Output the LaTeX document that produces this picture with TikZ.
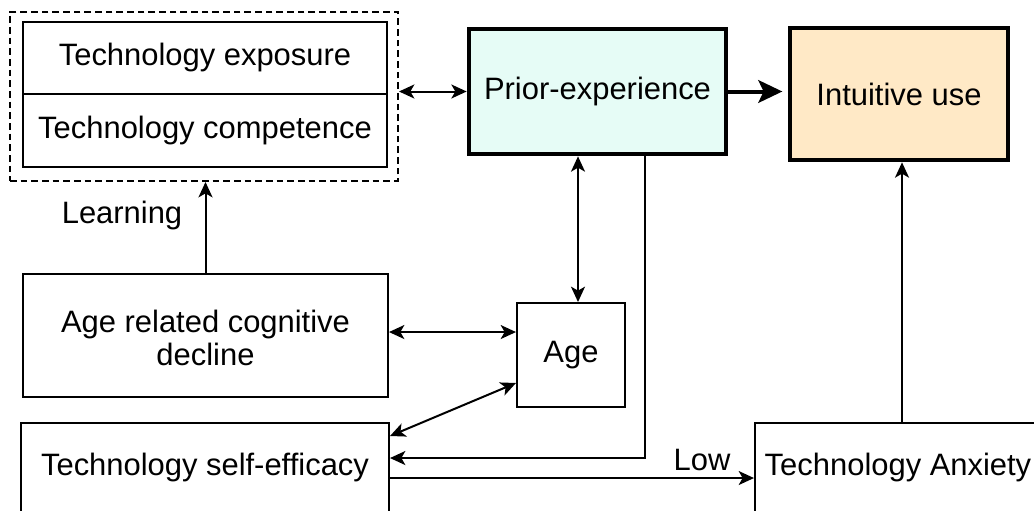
\documentclass[tikz,border=0pt]{standalone}
\usepackage{fontspec}
\setmainfont{Liberation Sans}
\usetikzlibrary{arrows.meta,fit,calc}
\definecolor{priorfill}{HTML}{E6FCF6}
\definecolor{intufill}{HTML}{FFE9C6}
\begin{document}
\begin{tikzpicture}[x=0.75pt,y=-0.75pt,
  font=\fontsize{23.2}{25}\selectfont,
  box/.style={draw, line width=1.5pt, inner sep=0pt},
  bigbox/.style={draw, line width=3.5pt, inner sep=0pt},
  grpbox/.style={draw, line width=1.5pt, inner sep=0pt, dash pattern=on 5pt off 3pt},
  txt/.style={inner sep=0pt, align=center},
  tip/.tip={Stealth[length=11.5pt,width=10.5pt,inset=3pt]},
  arr/.style={line width=1.5pt, -{tip}},
  dbl/.style={line width=1.5pt, {tip}-{tip}},
  thickarr/.style={line width=3pt, -{Stealth[length=18pt,width=17pt,inset=4pt]}, shorten >=4pt},
  lbl/.style={inner sep=0pt}
]
\useasboundingbox (0,0) rectangle (1034,510);
\clip (0,0) rectangle (1034,510);

\node[grpbox, fit={(10,12) (398,181)}] (grp) {};
\node[box, fit={(23,22) (387,94)}] (exp) {};
\node[txt] at (exp.center) {Technology exposure};
\node[box, fit={(23,94) (387,167)}] (comp) {};
\node[txt] at (comp.center) {Technology competence};

\node[bigbox, fill=priorfill, fit={(469,29) (726,154)}] (prior) {};
\node[txt] at (prior.center) {Prior-experience};
\node[bigbox, fill=intufill, fit={(790,28) (1008,160)}] (intu) {};
\node[txt] at (intu.center) {Intuitive use};

\node[box, fit={(23,274) (388,397)}] (cog) {};
\node[txt] at ([yshift=-2pt]cog.center) {Age related cognitive\\decline};
\node[box, fit={(517,303) (625,407)}] (age) {};
\node[txt] at (age.center) {Age};
\node[box, fit={(21,423) (389,512)}] (self) {};
\node[txt] at (self.center) {Technology self-efficacy};
\node[box, fit={(755,423) (1049,512)}] (anx) {};
\node[txt] at ([xshift=-3pt]anx.center) {Technology Anxiety};

\node[lbl] (learn) at (122,215) {Learning};
\node[lbl] (low) at (702,460) {Low};

\draw[dbl] (grp.east |- prior.west) -- (prior.west);
\draw[thickarr] (prior.east) -- (prior.east -| intu.west);
\draw[arr] (cog.north) -- (cog.north |- grp.south);
\draw[dbl] ([xshift=5.25pt]age.north) -- ([xshift=5.25pt]age.north |- prior.south);
\draw[dbl] ([yshift=2.6pt]cog.east) -- ([yshift=2.6pt]cog.east -| age.west);
\draw[dbl] ([yshift=-21pt]age.west) -- ([yshift=-10.5pt]self.north east);
\draw[arr] ([xshift=35.6pt]prior.south) |- ([yshift=7.1pt]self.east);
\draw[arr] ([yshift=-7.9pt]self.east) -- ([yshift=-7.9pt]self.east -| anx.west);
\draw[arr] (anx.north) -- (anx.north |- intu.south);
\end{tikzpicture}
\end{document}
